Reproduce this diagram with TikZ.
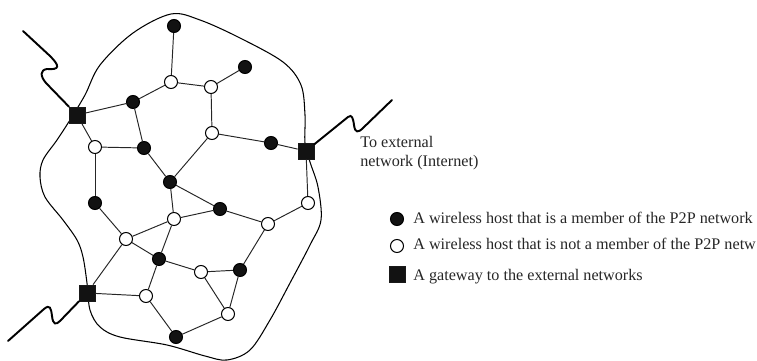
\documentclass[tikz,border=0pt]{standalone}
\usepackage{fontspec}
\setmainfont{Liberation Serif}
\begin{document}
\begin{tikzpicture}[x=0.02cm, y=-0.02cm,
        member/.style={circle, draw=black, fill=black!93, line width=0.6pt, minimum size=0.26cm, inner sep=0pt},
        host/.style={circle, draw=black, fill=white, line width=0.6pt, minimum size=0.26cm, inner sep=0pt},
        gateway/.style={rectangle, draw=black!90, fill=black!93, line width=0.4pt, minimum size=0.32cm, inner sep=0pt},
        link/.style={draw=black!85, line width=0.55pt},
        area/.style={draw=black, line width=0.6pt},
        wave/.style={draw=black, line width=1.1pt, line cap=round},
        label/.style={font=\fontsize{9.2}{10.8}\selectfont, inner sep=0pt, text=black!85}
    ]
        \useasboundingbox (0,0) rectangle (757,361);
        % area covered by the wireless network
        \draw[area] plot[smooth cycle, tension=0.55] coordinates {
            (171,14) (200,20) (240,38) (283,62) (301,85) (305,115) (305,143)
            (310,162) (318,187) (321,220) (310,245) (290,283) (270,320) (250,350)
            (227,360) (205,356) (167,345) (120,337) (100,327) (90,310) (87,283)
            (83,257) (77,240) (63,220) (45,197) (40,177) (43,160) (57,140)
            (70,120) (85,95) (100,65) (133,33)};
        % members of the P2P network
        \node[member] (mA) at (174,26) {};
        \node[member] (mB) at (245,67) {};
        \node[member] (mC) at (133,102) {};
        \node[member] (mD) at (144,148) {};
        \node[member] (mE) at (271,143) {};
        \node[member] (mF) at (170,182) {};
        \node[member] (mG) at (95,203) {};
        \node[member] (mH) at (220,209) {};
        \node[member] (mI) at (159,259) {};
        \node[member] (mJ) at (240,270) {};
        \node[member] (mK) at (176,337) {};
        % other hosts
        \node[host] (hA) at (171,82) {};
        \node[host] (hB) at (211,87) {};
        \node[host] (hC) at (212,133) {};
        \node[host] (hD) at (95,147) {};
        \node[host] (hE) at (308,203) {};
        \node[host] (hF) at (174,219) {};
        \node[host] (hG) at (268,224) {};
        \node[host] (hH) at (126,239) {};
        \node[host] (hI) at (201,272) {};
        \node[host] (hJ) at (228,314) {};
        \node[host] (hK) at (146,296) {};
        % gateways
        \node[gateway] (gwA) at (77,115) {};
        \node[gateway] (gwB) at (306,151) {};
        \node[gateway] (gwC) at (87,293) {};
        \foreach \a/\b in {mA/hA, hA/hB, hB/mB, hA/mC, mC/gwA, gwA/hD, hD/mD, mC/mD,
                mD/mF, mF/hC, hC/hB, hC/mE, mE/gwB, gwB/hE, hD/mG, mG/hH, mF/hF,
                mF/mH, hF/mH, mH/hG, hG/hE, hH/hF, hH/mI, mI/hF, mI/hI, hI/mJ,
                mJ/hG, hI/hJ, mJ/hJ, hH/gwC, gwC/hK, hK/mI, hK/mK, mK/hJ}
            \draw[link] (\a) -- (\b);
        % links to the outside
        \coordinate (wA) at (23,31);
        \coordinate (wB) at (392,100);
        \coordinate (wC) at (8,341);
        \draw[wave] (wA) -- (50,56) .. controls (60,66) and (60,70) .. (47,69)
            .. controls (40,70) and (40,76) .. (46,83) -- (gwA);
        \draw[wave] (gwB) -- (348,117) .. controls (352,114) and (353,118) .. (354,125)
            .. controls (355,133) and (358,133) .. (363,128) -- (wB);
        \draw[wave] (wC) -- (44,309) .. controls (50,304) and (51,308) .. (52,316)
            .. controls (53,325) and (56,325) .. (60,321) -- (gwC);
        \node[label, anchor=north west, align=left] (ext) at (360,136) {To external\\network (Internet)};
        % legend
        \node[member] (keyM) at (397,219) {};
        \node[host] (keyH) at (397,246) {};
        \node[gateway] (keyG) at (397,274) {};
        \node[label, anchor=base west] (txtM) at (413,224) {A wireless host that is a member of the P2P network};
        \node[label, anchor=base west] (txtH) at (413,250) {A wireless host that is not a member of the P2P netw};
        \node[label, anchor=base west] (txtG) at (413,280) {A gateway to the external networks};
    \end{tikzpicture}
\end{document}
